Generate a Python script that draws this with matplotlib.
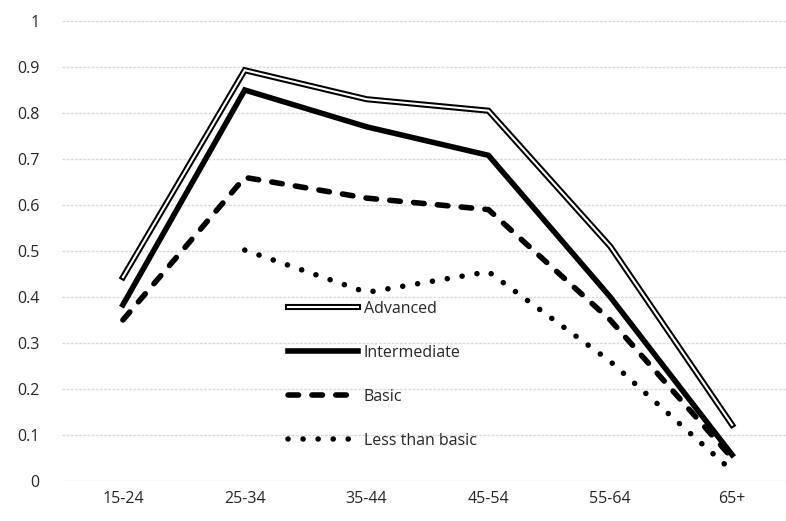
import matplotlib
matplotlib.use("Agg")
import matplotlib.pyplot as plt
import matplotlib.patheffects as pe
from matplotlib.lines import Line2D
import numpy as np

plt.rcParams['font.family'] = ['Open Sans', 'DejaVu Sans']

age_groups = ["15-24", "25-34", "35-44", "45-54", "55-64", "65+"]
advanced = [0.443, 0.893, 0.830, 0.805, 0.510, 0.122]
intermediate = [0.383, 0.850, 0.770, 0.708, 0.400, 0.057]
basic = [0.350, 0.660, 0.615, 0.590, 0.350, 0.050]
less_than_basic = [np.nan, 0.502, 0.410, 0.455, 0.260, 0.022]
y_ticks = [0, 0.1, 0.2, 0.3, 0.4, 0.5, 0.6, 0.7, 0.8, 0.9, 1]
y_tick_labels = ["0", "0.1", "0.2", "0.3", "0.4", "0.5", "0.6", "0.7", "0.8", "0.9", "1"]

W, H = 786, 521
fig = plt.figure(figsize=(W / 100, H / 100), dpi=100)
ax = fig.add_axes([62 / W, 40 / H, (793 - 62) / W, 460 / H])

x = np.arange(len(age_groups))
lw = 4.0
dash_style = (0, (1.9, 2.4))
dot_style = (0, (0.01, 2.7))

double_line = [pe.Stroke(linewidth=lw + 0.4, foreground='black'), pe.Normal()]
ax.plot(x, advanced, color='white', lw=1.5, solid_joinstyle='miter',
        path_effects=double_line, label="Advanced", zorder=5)
ax.plot(x, intermediate, color='black', lw=lw, solid_joinstyle='miter',
        label="Intermediate", zorder=4)
ax.plot(x, basic, color='black', lw=lw, dash_capstyle='round',
        linestyle=dash_style, label="Basic", zorder=3)
ax.plot(x, less_than_basic, color='black', lw=lw, dash_capstyle='round',
        linestyle=dot_style, label="Less than basic", zorder=2)

ax.set_xlim(-0.5, len(age_groups) - 0.5)
ax.set_ylim(0, 1)
ax.set_xticks(x)
ax.set_xticklabels(age_groups)
ax.set_yticks(y_ticks)
ax.set_yticklabels(y_tick_labels)
ax.tick_params(axis='both', length=0, labelsize=11.5, colors='#262626')
ax.tick_params(axis='x', pad=7)
ax.tick_params(axis='y', pad=16)
ax.grid(axis='y', color='#d9d9d9', lw=1.0, linestyle=(0, (2, 1)))
ax.set_axisbelow(True)
for s in ax.spines.values():
    s.set_visible(False)

handles = [
    Line2D([], [], color='white', lw=1.5, path_effects=double_line),
    Line2D([], [], color='black', lw=lw),
    Line2D([], [], color='black', lw=lw, dash_capstyle='round', linestyle=dash_style),
    Line2D([], [], color='black', lw=lw, dash_capstyle='round', linestyle=dot_style),
]
labels = ["Advanced", "Intermediate", "Basic", "Less than basic"]
leg = fig.legend(handles, labels, loc='upper left', bbox_to_anchor=(280 / W, 1 - 293 / H),
                 frameon=False, fontsize=11.5, handlelength=4.4, handletextpad=0.35,
                 labelspacing=1.75, borderpad=0, labelcolor='#262626')

fig.savefig("out.png", dpi=100)
